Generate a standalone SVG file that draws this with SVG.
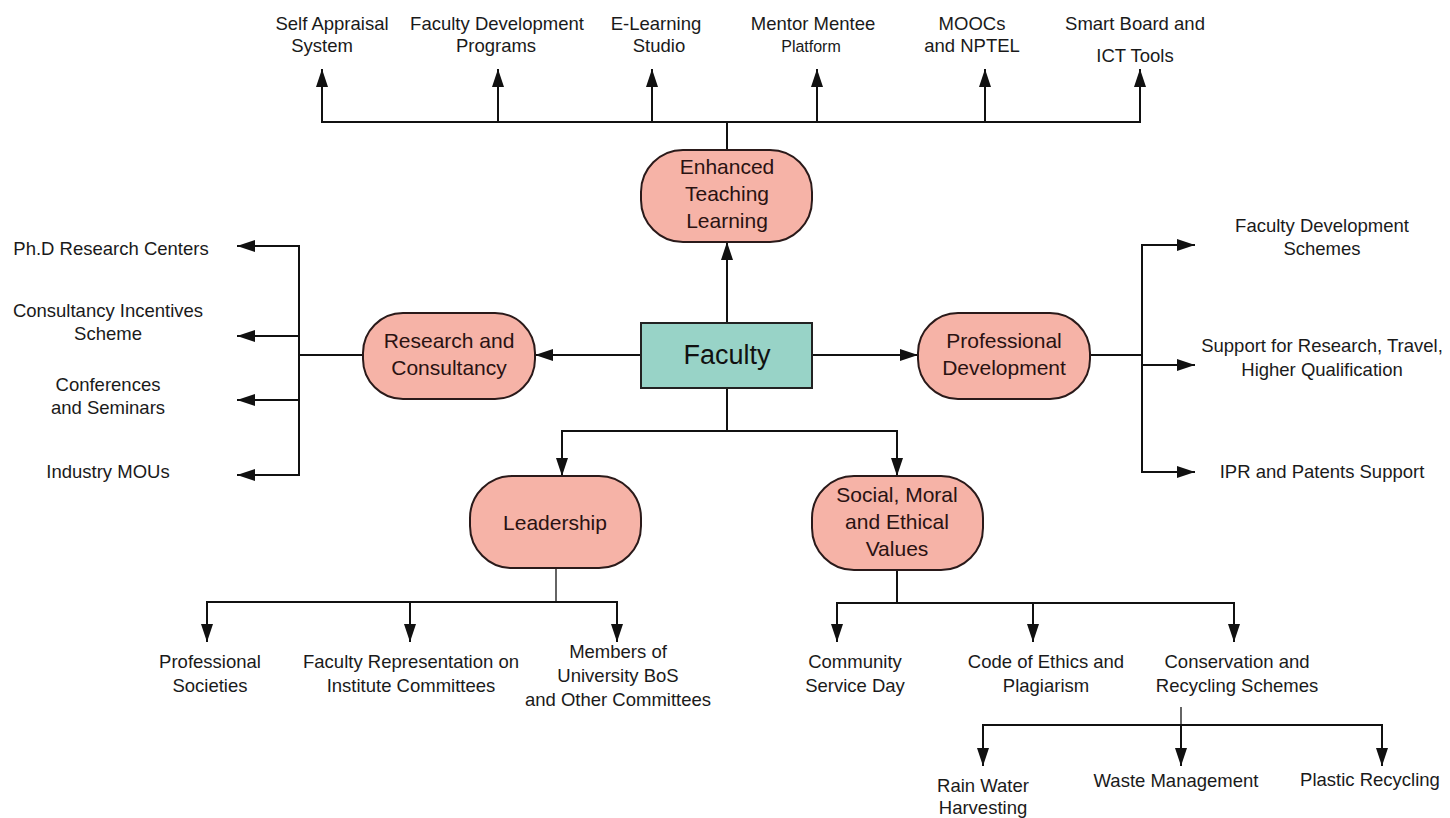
<svg xmlns="http://www.w3.org/2000/svg" width="1450" height="818" viewBox="0 0 1450 818">
<defs>
<marker id="ah" markerUnits="userSpaceOnUse" markerWidth="18" markerHeight="12" refX="18" refY="6" orient="auto">
<path d="M0,0 L18,6 L0,12 z" fill="#111"/>
</marker>
<style>
.ln{fill:none;stroke:#111;stroke-width:2}
.thin{fill:none;stroke:#111;stroke-width:1.3}
.ar{marker-end:url(#ah)}
.nd{fill:#f6b3a7;stroke:#2a1a1a;stroke-width:2}
.fac{fill:#98d3c7;stroke:#222;stroke-width:2}
.nt{font-family:"Liberation Sans",Arial,sans-serif;font-size:21px;fill:#2a1212;text-anchor:middle}
.ft{font-family:"Liberation Sans",Arial,sans-serif;font-size:27px;fill:#111;text-anchor:middle}
.lt{font-family:"Liberation Sans",Arial,sans-serif;font-size:18.5px;fill:#1a1a1a;text-anchor:middle}
.sm{font-size:16px}
</style>
</defs>
<rect width="1450" height="818" fill="#fff"/>
<g id="connectors">
<line class="ln ar" x1="727" y1="323" x2="727" y2="242"/>
<line class="ln" x1="727" y1="150" x2="727" y2="122"/>
<line class="ln" x1="321" y1="122" x2="1141" y2="122"/>
<line class="ln ar" x1="322" y1="122" x2="322" y2="69"/>
<line class="ln ar" x1="498" y1="122" x2="498" y2="69"/>
<line class="ln ar" x1="652" y1="122" x2="652" y2="69"/>
<line class="ln ar" x1="817" y1="122" x2="817" y2="69"/>
<line class="ln ar" x1="985" y1="122" x2="985" y2="69"/>
<line class="ln ar" x1="1140" y1="122" x2="1140" y2="69"/>
<line class="ln ar" x1="641" y1="355" x2="535" y2="355"/>
<line class="ln" x1="363" y1="355" x2="299" y2="355"/>
<line class="ln" x1="299" y1="245" x2="299" y2="476"/>
<line class="ln ar" x1="300" y1="246" x2="237" y2="246"/>
<line class="ln ar" x1="300" y1="336" x2="237" y2="336"/>
<line class="ln ar" x1="300" y1="400" x2="237" y2="400"/>
<line class="ln ar" x1="300" y1="475" x2="237" y2="475"/>
<line class="ln ar" x1="812" y1="355" x2="918" y2="355"/>
<line class="ln" x1="1090" y1="355" x2="1142" y2="355"/>
<line class="ln" x1="1142" y1="244" x2="1142" y2="473"/>
<line class="ln ar" x1="1141" y1="245" x2="1195" y2="245"/>
<line class="ln ar" x1="1141" y1="365" x2="1195" y2="365"/>
<line class="ln ar" x1="1141" y1="472" x2="1195" y2="472"/>
<line class="ln" x1="727" y1="388" x2="727" y2="431"/>
<polyline class="ln ar" points="727,431 562,431 562,476"/>
<polyline class="ln ar" points="727,431 897,431 897,476"/>
<line class="thin" x1="556" y1="568" x2="556" y2="602"/>
<line class="ln" x1="206" y1="602" x2="618" y2="602"/>
<line class="ln ar" x1="207" y1="602" x2="207" y2="642"/>
<line class="ln ar" x1="410" y1="602" x2="410" y2="642"/>
<line class="ln ar" x1="617" y1="602" x2="617" y2="642"/>
<line class="ln" x1="897" y1="570" x2="897" y2="603"/>
<line class="ln" x1="836" y1="603" x2="1235" y2="603"/>
<line class="ln ar" x1="837" y1="603" x2="837" y2="642"/>
<line class="ln ar" x1="1033" y1="603" x2="1033" y2="642"/>
<line class="ln ar" x1="1234" y1="603" x2="1234" y2="642"/>
<line class="thin" x1="1181" y1="707" x2="1181" y2="725"/>
<line class="ln" x1="982" y1="725" x2="1383" y2="725"/>
<line class="ln ar" x1="983" y1="725" x2="983" y2="766"/>
<line class="ln ar" x1="1181" y1="725" x2="1181" y2="766"/>
<line class="ln ar" x1="1382" y1="725" x2="1382" y2="766"/>
</g>
<g id="faculty">
<rect class="fac" x="641" y="323" width="171" height="65"/>
<text class="ft" x="727" y="364">Faculty</text>
</g>
<g id="enhanced">
<rect class="nd" x="641" y="150" width="171" height="92" rx="42" ry="42"/>
<text class="nt" x="727" y="174">Enhanced</text>
<text class="nt" x="727" y="201">Teaching</text>
<text class="nt" x="727" y="228">Learning</text>
</g>
<g id="research">
<rect class="nd" x="363" y="313" width="172" height="86" rx="40" ry="40"/>
<text class="nt" x="449" y="348">Research and</text>
<text class="nt" x="449" y="375">Consultancy</text>
</g>
<g id="professional">
<rect class="nd" x="918" y="313" width="172" height="86" rx="40" ry="40"/>
<text class="nt" x="1004" y="348">Professional</text>
<text class="nt" x="1004" y="375">Development</text>
</g>
<g id="leadership">
<rect class="nd" x="470" y="476" width="171" height="92" rx="42" ry="42"/>
<text class="nt" x="555" y="530">Leadership</text>
</g>
<g id="social">
<rect class="nd" x="812" y="476" width="171" height="94" rx="42" ry="42"/>
<text class="nt" x="897" y="502">Social, Moral</text>
<text class="nt" x="897" y="529">and Ethical</text>
<text class="nt" x="897" y="556">Values</text>
</g>
<g id="top-labels">
<text class="lt" x="332" y="30">Self Appraisal</text>
<text class="lt" x="322" y="52">System</text>
<text class="lt" x="497" y="30">Faculty Development</text>
<text class="lt" x="496" y="52">Programs</text>
<text class="lt" x="656" y="30">E-Learning</text>
<text class="lt" x="659" y="52">Studio</text>
<text class="lt" x="813" y="30">Mentor Mentee</text>
<text class="lt sm" x="811" y="52">Platform</text>
<text class="lt" x="972" y="30">MOOCs</text>
<text class="lt" x="972" y="52">and NPTEL</text>
<text class="lt" x="1135" y="30">Smart Board and</text>
<text class="lt" x="1135" y="62">ICT Tools</text>
</g>
<g id="research-labels">
<text class="lt" x="111" y="255">Ph.D Research Centers</text>
<text class="lt" x="108" y="317">Consultancy Incentives</text>
<text class="lt" x="108" y="340">Scheme</text>
<text class="lt" x="108" y="391">Conferences</text>
<text class="lt" x="108" y="414">and Seminars</text>
<text class="lt" x="108" y="478">Industry MOUs</text>
</g>
<g id="professional-labels">
<text class="lt" x="1322" y="232">Faculty Development</text>
<text class="lt" x="1322" y="255">Schemes</text>
<text class="lt" x="1322" y="352">Support for Research, Travel,</text>
<text class="lt" x="1322" y="376">Higher Qualification</text>
<text class="lt" x="1322" y="478">IPR and Patents Support</text>
</g>
<g id="leadership-labels">
<text class="lt" x="210" y="668">Professional</text>
<text class="lt" x="210" y="692">Societies</text>
<text class="lt" x="411" y="668">Faculty Representation on</text>
<text class="lt" x="411" y="692">Institute Committees</text>
<text class="lt" x="618" y="658">Members of</text>
<text class="lt" x="618" y="682">University BoS</text>
<text class="lt" x="618" y="706">and Other Committees</text>
</g>
<g id="social-labels">
<text class="lt" x="855" y="668">Community</text>
<text class="lt" x="855" y="692">Service Day</text>
<text class="lt" x="1046" y="668">Code of Ethics and</text>
<text class="lt" x="1046" y="692">Plagiarism</text>
<text class="lt" x="1237" y="668">Conservation and</text>
<text class="lt" x="1237" y="692">Recycling Schemes</text>
</g>
<g id="conservation-labels">
<text class="lt" x="983" y="792">Rain Water</text>
<text class="lt" x="983" y="814">Harvesting</text>
<text class="lt" x="1176" y="787">Waste Management</text>
<text class="lt" x="1370" y="786">Plastic Recycling</text>
</g>
</svg>
